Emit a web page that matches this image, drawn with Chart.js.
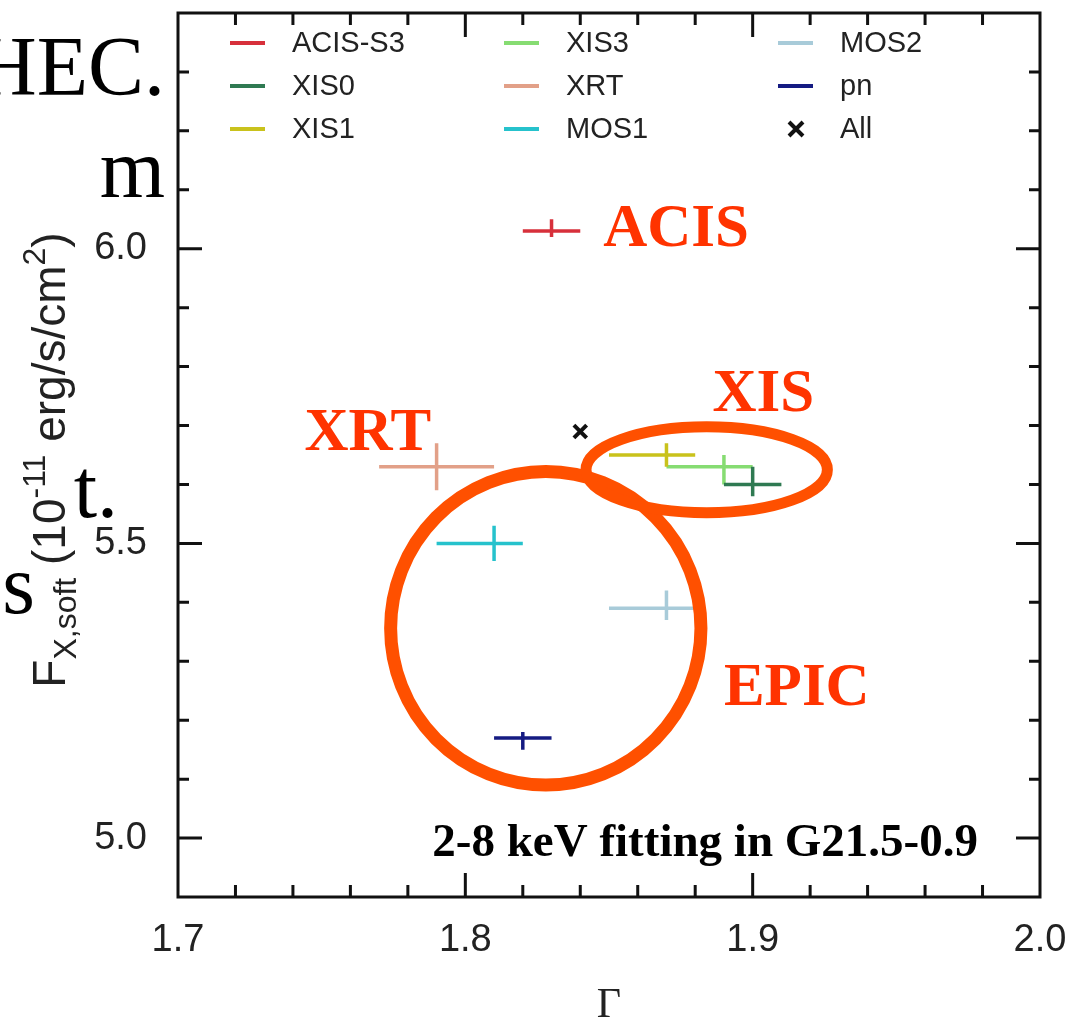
<!DOCTYPE html>
<html lang="en">
<head>
<meta charset="UTF-8">
<title>2-8 keV fitting in G21.5-0.9</title>
<script src="https://cdn.jsdelivr.net/npm/chart.js"></script>
<style>
  html, body { margin: 0; padding: 0; background: #ffffff; }
  #wrap { width: 1084px; height: 1023px; }
</style>
</head>
<body>
<div id="wrap"><canvas id="fitChart" width="1084" height="1023"></canvas></div>
<script>
// instruments, legend order (column by column)
const instruments = ["ACIS-S3", "XIS0", "XIS1", "XIS3", "XRT", "MOS1", "MOS2", "pn"];
const colors = ["#d7303b", "#2f7a52", "#c9c21c", "#86dc72", "#e2a088", "#26c2cc", "#a8cbd9", "#151b82"];
// photon index and its error range
const gamma   = [1.83, 1.90, 1.87, 1.89, 1.79, 1.81, 1.87, 1.82];
const gammaLo = [1.82, 1.89, 1.85, 1.87, 1.77, 1.79, 1.85, 1.81];
const gammaHi = [1.84, 1.91, 1.88, 1.90, 1.81, 1.82, 1.88, 1.83];
// soft flux (1e-11 erg/s/cm2) and its error range
const flux   = [6.03, 5.60, 5.65, 5.63, 5.63, 5.50, 5.39, 5.17];
const fluxLo = [6.02, 5.58, 5.63, 5.60, 5.59, 5.47, 5.37, 5.15];
const fluxHi = [6.05, 5.63, 5.67, 5.65, 5.67, 5.53, 5.42, 5.18];
// joint fit, all instruments
const allGamma = [1.84];
const allFlux  = [5.69];

const xTicks = [1.7, 1.8, 1.9, 2.0];
const yTicks = [5.0, 5.5, 6.0];

// hand-drawn notes on the slide (data coords)
const noteText = ["ACIS", "XIS", "XRT", "EPIC"];
const noteX = [1.848, 1.886, 1.744, 1.890];
const noteY = [6.005, 5.725, 5.659, 5.226];
const ringX  = [1.828, 1.884];
const ringY  = [5.356, 5.625];
const ringRx = [0.054, 0.042];
const ringRy = [0.266, 0.073];

const datasets = instruments.map((name, i) => ({
    label: name,
    data: [
        {x: gammaLo[i], y: flux[i]}, {x: gammaHi[i], y: flux[i]},
        {x: gamma[i], y: null},
        {x: gamma[i], y: fluxLo[i]}, {x: gamma[i], y: fluxHi[i]}
    ],
    showLine: true,
    spanGaps: false,
    borderColor: colors[i],
    backgroundColor: colors[i],
    borderWidth: 3.5,
    pointRadius: 0
}));
datasets.push({
    label: "All",
    data: allGamma.map((g, i) => ({x: g, y: allFlux[i]})),
    showLine: false,
    pointStyle: "crossRot",
    pointRadius: 9,
    borderColor: "#111",
    borderWidth: 4
});

const decor = {
    id: "decor",
    beforeDraw(chart) {
        const ctx = chart.ctx;
        ctx.save();
        ctx.fillStyle = "#fff";
        ctx.fillRect(0, 0, chart.width, chart.height);
        // bits of slide text cut off on the left
        ctx.fillStyle = "#000";
        ctx.font = "84px 'Liberation Serif'";
        ctx.textAlign = "right";
        ctx.textBaseline = "alphabetic";
        ctx.fillText("HEC.", 165, 95);
        ctx.fillText("m", 165, 197);
        ctx.fillText("t.", 118, 517);
        ctx.fillText("s", 35, 613);
        ctx.restore();
    },
    afterDatasetsDraw(chart) {
        const {ctx, chartArea: a, scales: {x, y}} = chart;
        ctx.save();

        // frame with inward ticks on all sides
        ctx.strokeStyle = "#111";
        ctx.lineWidth = 3;
        ctx.strokeRect(a.left, a.top, a.right - a.left, a.bottom - a.top);
        ctx.beginPath();
        for (let k = 1; k < 15; k++) {
            const v = 1.7 + k * 0.02;
            const px = x.getPixelForValue(v);
            const len = (k % 5 === 0) ? 24 : 12;
            ctx.moveTo(px, a.bottom); ctx.lineTo(px, a.bottom - len);
            ctx.moveTo(px, a.top); ctx.lineTo(px, a.top + len);
        }
        for (let k = 1; k < 15; k++) {
            const v = 4.9 + k * 0.1;
            const py = y.getPixelForValue(v);
            const len = (k % 5 === 1) ? 24 : 11;
            ctx.moveTo(a.left, py); ctx.lineTo(a.left + len, py);
            ctx.moveTo(a.right, py); ctx.lineTo(a.right - len, py);
        }
        ctx.stroke();

        // orange rings
        ctx.strokeStyle = "#ff5000";
        ringX.forEach((cx, i) => {
            const px = x.getPixelForValue(cx), py = y.getPixelForValue(ringY[i]);
            const rx = x.getPixelForValue(cx + ringRx[i]) - px;
            const ry = py - y.getPixelForValue(ringY[i] + ringRy[i]);
            ctx.lineWidth = i === 0 ? 13 : 11;
            ctx.beginPath();
            ctx.ellipse(px, py, rx, ry, 0, 0, Math.PI * 2);
            ctx.stroke();
        });

        // notes
        ctx.fillStyle = "#ff3300";
        ctx.font = "bold 61px 'Liberation Serif'";
        ctx.textAlign = "left";
        ctx.textBaseline = "alphabetic";
        noteText.forEach((t, i) => {
            ctx.fillText(t, x.getPixelForValue(noteX[i]), y.getPixelForValue(noteY[i]));
        });
        ctx.fillStyle = "#000";
        ctx.font = "bold 47px 'Liberation Serif'";
        ctx.fillText("2-8 keV fitting in G21.5-0.9", x.getPixelForValue(1.7885), y.getPixelForValue(4.9695));

        // legend, three columns
        ctx.font = "29px 'Liberation Sans'";
        ctx.textBaseline = "middle";
        chart.data.datasets.forEach((ds, i) => {
            const col = Math.floor(i / 3), row = i % 3;
            const lx = a.left + 52 + col * 274;
            const ly = a.top + 30 + row * 43;
            if (ds.showLine) {
                ctx.strokeStyle = ds.borderColor;
                ctx.lineWidth = 4;
                ctx.beginPath();
                ctx.moveTo(lx, ly); ctx.lineTo(lx + 35, ly);
                ctx.stroke();
            } else {
                ctx.strokeStyle = "#111";
                ctx.lineWidth = 4;
                ctx.beginPath();
                ctx.moveTo(lx + 11, ly - 7); ctx.lineTo(lx + 25, ly + 7);
                ctx.moveTo(lx + 25, ly - 7); ctx.lineTo(lx + 11, ly + 7);
                ctx.stroke();
            }
            ctx.fillStyle = "#222";
            ctx.fillText(ds.label, lx + 62, ly + 1);
        });

        // axis titles
        ctx.fillStyle = "#222";
        ctx.font = "42px 'Liberation Serif'";
        ctx.textAlign = "center";
        ctx.textBaseline = "alphabetic";
        ctx.fillText("\u0393", (a.left + a.right) / 2, a.bottom + 120);

        const parts = [
            ["F", 46, 0], ["X,soft", 32, 11], [" (10", 46, 0], ["-11", 32, -20],
            [" erg/s/cm", 46, 0], ["2", 32, -20], [")", 46, 0]
        ];
        let total = 0;
        parts.forEach(p => { ctx.font = p[1] + "px 'Liberation Sans'"; total += ctx.measureText(p[0]).width; });
        ctx.translate(a.left - 113, (a.top + a.bottom) / 2 + 5);
        ctx.rotate(-Math.PI / 2);
        ctx.textAlign = "left";
        let pos = -total / 2;
        parts.forEach(p => {
            ctx.font = p[1] + "px 'Liberation Sans'";
            ctx.fillText(p[0], pos, p[2]);
            pos += ctx.measureText(p[0]).width;
        });
        ctx.restore();
    }
};

new Chart(document.getElementById("fitChart"), {
    type: "scatter",
    data: { datasets: datasets },
    options: {
        responsive: false,
        animation: false,
        events: [],
        layout: { padding: { top: 12, right: 44, left: 0, bottom: 0 } },
        plugins: { legend: { display: false }, tooltip: { enabled: false } },
        scales: {
            x: {
                min: 1.7, max: 2.0,
                grid: { display: false, drawTicks: false },
                border: { display: false },
                afterFit: s => { s.height = 126; s.paddingLeft = 0; s.paddingRight = 0; },
                afterBuildTicks: s => { s.ticks = xTicks.map(v => ({value: v})); },
                ticks: {
                    includeBounds: false,
                    padding: 21,
                    color: "#222",
                    font: { family: "'Liberation Sans'", size: 38 },
                    callback: v => Number(v).toFixed(1)
                }
            },
            y: {
                min: 4.9, max: 6.4,
                grid: { display: false, drawTicks: false },
                border: { display: false },
                afterFit: s => { s.width = 178; s.paddingTop = 0; s.paddingBottom = 0; },
                afterBuildTicks: s => { s.ticks = yTicks.map(v => ({value: v})); },
                ticks: {
                    includeBounds: false,
                    padding: 31,
                    color: "#222",
                    font: { family: "'Liberation Sans'", size: 38 },
                    callback: v => Number(v).toFixed(1)
                }
            }
        }
    },
    plugins: [decor]
});
</script>
</body>
</html>
